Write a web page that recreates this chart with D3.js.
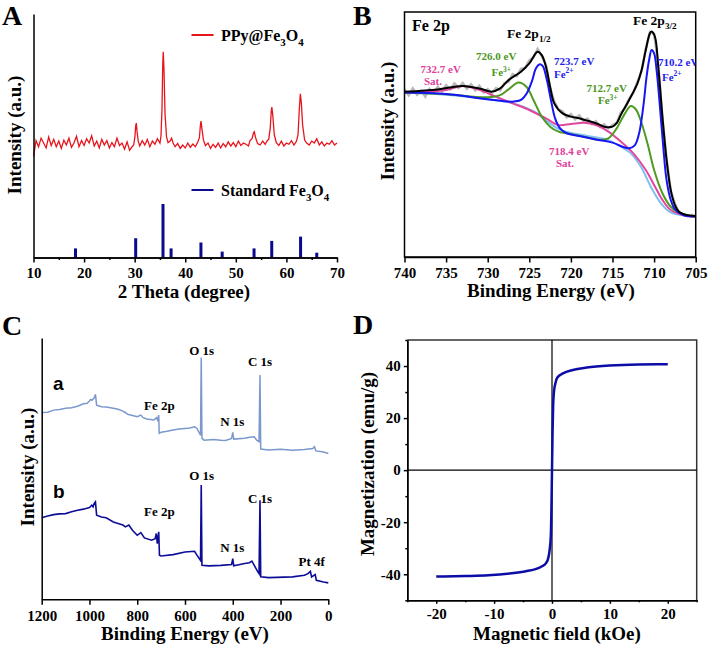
<!DOCTYPE html>
<html>
<head>
<meta charset="utf-8">
<script src="https://cdn.jsdelivr.net/npm/d3@7"></script>
<style>
body { margin: 0; background: #fff; }
svg text { font-weight: bold; }
</style>
</head>
<body>
<div id="fig"></div>
<script>
// ---------- A: XRD ----------
var xrdPPy = [[10,415],[10.5,480],[11,455],[11.5,490],[12,470],[12.5,450],[13,495],[13.5,460],[14,485],[14.5,455],
  [15,478],[15.5,448],[16,482],[16.5,462],[17,490],[17.5,452],[18,470],[18.5,498],[19,455],[19.5,480],
  [20,460],[20.5,488],[21,470],[21.5,500],[22,458],[22.5,478],[23,450],[23.5,485],[24,462],[24.5,480],
  [25,450],[25.5,472],[26,455],[26.5,490],[27,460],[27.5,470],[28,445],[28.5,475],[29,440],[29.5,455],
  [29.8,462],[30.05,495],[30.2,540],[30.32,552],[30.45,522],[30.7,478],[31,458],[31.5,480],[32,462],[32.5,485],
  [33,455],[33.5,478],[34,465],[34.5,488],[35,470],[35.2,498],[35.4,610],[35.55,790],[35.65,845],[35.8,770],
  [36,590],[36.3,495],[36.6,472],[37,478],[37.3,490],[37.6,470],[38,455],[38.5,468],[39,448],[39.5,462],
  [40,450],[40.5,470],[41,452],[41.5,466],[42,455],[42.5,475],[42.8,492],[43,545],[43.12,560],[43.3,528],
  [43.6,482],[44,460],[44.5,470],[45,448],[45.5,465],[46,452],[46.5,470],[47,450],[47.5,468],[48,455],
  [48.5,475],[49,458],[49.5,472],[50,455],[50.5,478],[51,460],[51.5,470],[52,465],[52.5,458],[52.8,480],
  [53.2,488],[53.5,512],[53.65,516],[53.9,492],[54.3,468],[54.8,462],[55.3,478],[55.8,465],[56.2,480],[56.5,485],
  [56.8,530],[57,600],[57.12,618],[57.3,585],[57.6,505],[58,472],[58.5,460],[59,478],[59.5,458],[60,470],
  [60.5,465],[61,480],[61.5,462],[62,478],[62.3,505],[62.55,610],[62.75,672],[62.95,635],[63.2,545],[63.6,482],
  [64,470],[64.5,462],[65,478],[65.5,470],[66,488],[66.5,462],[67,475],[67.5,458],[68,470],[68.5,465],
  [69,480],[69.5,462],[70,470]];
var stdPos = [18.3, 30.2, 35.6, 37.2, 43.1, 47.3, 53.6, 57.1, 62.8, 66.0];
var stdInt = [17, 36, 100, 17, 28, 11, 17, 31, 39, 9];
var xrdTicks = [10, 20, 30, 40, 50, 60, 70];
var xrdMinor = [15, 25, 35, 45, 55, 65];

// ---------- B: Fe 2p ----------
var fe2pRaw = [[740,68.5],[739.5,66.0],[739,68.8],[738.5,66.2],[738,67.9],[737.5,65.5],[737,68.6],[736.5,67.0],
  [736,69.5],[735.5,67.5],[735,70.1],[734.5,68.4],[734,70.8],[733.5,69.0],[733,71.0],[732.5,68.7],[732,70.5],
  [731.5,68.0],[731,69.9],[730.5,67.2],[730,68.5],[729.5,66.8],[729,68.9],[728.5,68.0],[728,71.0],[727.5,71.5],
  [727,74.6],[726.5,73.8],[726,76.8],[725.5,77.2],[725,80.3],[724.5,81.5],[724,84.9],[723.5,82.0],[723,78.5],
  [722.5,69.0],[722,63.5],[721.5,60.2],[721,59.5],[720.5,57.0],[720,58.4],[719.5,56.2],[719,57.8],[718.5,55.6],
  [718,56.5],[717.5,54.3],[717,55.4],[716.5,53.0],[716,54.1],[715.5,52.5],[715,53.9],[714.5,54.8],[714,58.9],
  [713.5,60.8],[713,64.6],[712.5,67.0],[712,71.5],[711.5,76.0],[711,85.0],[710.5,91.8],[710,91.0],[709.5,78.5],
  [709,57.0],[708.5,40.2],[708,27.0],[707.5,21.8],[707,18.0],[706.5,17.6],[706,16.6],[705.5,17.2],[705,16.5]];
var fe2pEnvelope = [[740,67.5],[736,68.4],[734,69.5],[733,69.8],[731,68.8],[729.5,67.5],[728.5,68.8],[727.5,72.2],
  [726,75.6],[725,79.0],[724,83.8],[723.5,82.4],[723,77.7],[722.5,69.5],[722,62.7],[721,58.6],[720,57.3],
  [719,56.6],[718,55.6],[717,54.6],[716,53.2],[715,53.2],[714.5,54.6],[714,58.0],[713,64.1],[712,70.9],
  [711.5,76.3],[711,84.5],[710.5,91.3],[710.3,92.0],[709.9,89.9],[709.5,77.7],[709,57.3],[708.5,39.6],
  [708,27.3],[707.5,21.2],[707,18.5],[706,17.1],[705,16.7]];
var fe2pBackground = [[740,67.1],[735,66.2],[730.1,64.4],[726.9,62.7],[724.4,59.3],[722.8,55.2],[721.2,51.8],
  [718,49.4],[715.6,47.8],[714,45.0],[712.8,42.3],[711.6,36.9],[710.4,28.7],[709.2,22.0],[708,18.2],[706,16.8],[705,16.5]];
var fe2pSat = [[740,67.1],[735,68.2],[733,69.8],[731,68.2],[729,65.4],[727,62.7],[725,60.0],[723,56.6],[721.5,53.9],
  [720,54.3],[718.4,54.8],[717,53.9],[715.5,51.2],[714,47.1],[712.5,42.3],[711,35.5],[710,29.4],[709,23.3],
  [708,19.2],[706,16.7],[705,16.5]];
var fe2pFe3 = [[740,67.1],[735,66.4],[730,65.2],[728.5,66.1],[727.5,68.4],[726.3,71.2],[725.3,69.3],[724.5,64.1],
  [723.5,57.3],[722.5,53.2],[721.5,51.2],[720,50.2],[718,48.8],[716.5,47.8],[715.5,48.4],[714.5,52.5],[713.5,58.6],
  [712.8,61.6],[712.2,60.3],[711.5,54.6],[710.8,46.4],[710,35.5],[709,26.0],[708,20.5],[707,18.1],[705,16.5]];
var fe2pFe2 = [[740,67.1],[735,66.5],[730,64.4],[727,63.4],[726,64.1],[725.3,66.8],[724.7,71.6],[724.2,77.0],
  [723.8,78.6],[723.4,78.0],[722.9,72.4],[722.4,64.1],[721.9,56.6],[721.3,52.5],[720.5,50.5],[719,49.4],[717,48.0],
  [715,46.7],[713.8,45.0],[713,44.4],[712.3,45.7],[711.8,50.5],[711.3,61.4],[710.9,73.7],[710.6,80.4],[710.3,84.5],
  [710,83.1],[709.7,76.3],[709.3,61.4],[708.9,45.0],[708.5,31.4],[708,23.3],[707.5,19.5],[706.5,17.1],[705,16.5]];
var beTicksB = [740, 735, 730, 725, 720, 715, 710, 705];

// ---------- C: survey ----------
var surveyA = [[1200,71.5],[1175,71.6],[1150,72.4],[1125,72.6],[1100,73.1],[1075,73.3],[1050,73.9],[1025,74.8],
  [1010,75.0],[1000,75.9],[995,76.5],[990,76.2],[985,76.6],[980,77.1],[975,78.4],[970,74.3],[950,73.7],[930,73.6],
  [900,73.1],[880,72.7],[860,72.0],[850,71.5],[840,70.8],[800,69.9],[785,70.5],[775,69.5],[760,69.0],[730,68.6],
  [720,69.5],[715,68.6],[710,70.5],[708,63.5],[700,63.9],[675,64.3],[650,64.8],[625,65.2],[600,65.4],[580,65.6],
  [560,66.0],[550,65.4],[535,62.8],[532,92.5],[529,61.6],[520,60.9],[480,61.2],[450,60.9],[430,60.8],[405,61.6],
  [400,63.9],[396,61.3],[350,61.6],[330,62.0],[310,62.2],[300,60.9],[290,60.3],[286,85.8],[283,57.5],[250,57.1],
  [200,57.4],[150,57.0],[100,57.3],[65,57.7],[58,58.4],[52,56.8],[20,56.4],[0,55.8]];
var surveyB = [[1200,31.2],[1175,31.9],[1150,32.4],[1125,32.7],[1100,32.8],[1075,33.5],[1050,34.1],[1025,34.5],
  [1000,35.1],[990,36.0],[985,35.4],[980,36.7],[975,37.3],[970,32.2],[950,31.5],[930,31.2],[900,29.6],[880,29.0],
  [860,28.4],[850,27.7],[835,28.4],[820,26.4],[800,24.5],[785,25.5],[770,23.5],[740,22.6],[725,23.2],[720,25.2],
  [716,21.3],[710,25.8],[707,16.9],[700,16.6],[650,17.1],[600,18.1],[560,18.4],[550,16.9],[535,14.9],[532,43.7],
  [529,13.0],[500,12.8],[450,13.0],[405,13.3],[400,15.6],[396,12.8],[350,13.7],[330,14.0],[320,14.6],[310,13.0],
  [295,10.5],[290,9.8],[286,37.9],[283,8.6],[250,8.3],[150,8.6],[100,9.2],[85,9.8],[75,10.7],[70,8.6],[55,9.5],
  [50,7.3],[20,6.6],[0,6.3]];
var beTicksC = [1200, 1000, 800, 600, 400, 200, 0];

// ---------- D: M-H ----------
var mhField =  [-20, -15, -11, -7, -4.5, -3, -1.8, -1, -0.7, -0.4, -0.2, -0.1, 0, 0.1, 0.2, 0.35, 0.6, 0.9, 1.9, 3.6, 6, 10, 15, 20];
var mhMoment = [-40.9, -40.7, -40.4, -39.6, -38.8, -38.1, -37.0, -35.6, -34.2, -30.5, -25, -15, 0, 15, 25, 30.3, 33.5, 35.5, 37.2, 38.5, 39.4, 40.2, 40.6, 40.7];
var mhXTicks = [-20, -10, 0, 10, 20];
var mhXMinor = [-25, -15, -5, 5, 15, 25];
var mhYTicks = [-40, -20, 0, 20, 40];
var mhYMinor = [-50, -30, -10, 10, 30, 50];

var serif = '"Liberation Serif", "Times New Roman", serif';
var sans = '"Liberation Sans", Arial, sans-serif';
var plain = function(d) { return String(d); };

var svg = d3.select("#fig").append("svg")
    .attr("width", 708)
    .attr("height", 650)
    .style("font-family", serif);

// style an axis group
function styleAxis(g, size) {
  g.attr("font-family", serif).attr("font-size", size).attr("font-weight", "bold");
  g.select(".domain").attr("stroke-width", 1.5).attr("stroke", "#000");
  g.selectAll(".tick line").attr("stroke-width", 1.5);
  g.selectAll(".tick text").attr("fill", "#000");
}

// text with sub/superscripts; parts = [[text, "sub"|"sup"|null], ...]
function richText(g, x, y, parts, size, color, anchor) {
  var t = g.append("text").attr("x", x).attr("y", y)
      .attr("font-size", size).attr("fill", color)
      .attr("text-anchor", anchor || "start");
  var shift = 0;
  parts.forEach(function(p) {
    var target = p[1] == "sub" ? size * 0.3 : p[1] == "sup" ? -size * 0.4 : 0;
    t.append("tspan").text(p[0])
      .attr("dy", target - shift)
      .attr("font-size", p[1] ? size * 0.68 : size);
    shift = target;
  });
  return t;
}

function letter(txt, x, y) {
  svg.append("text").attr("x", x).attr("y", y).attr("font-size", 28).text(txt);
}

function yTitle(txt, x, y) {
  svg.append("text").attr("transform", "translate(" + x + "," + y + ") rotate(-90)")
    .attr("text-anchor", "middle").attr("font-size", 19).text(txt);
}
function xTitle(txt, x, y) {
  svg.append("text").attr("x", x).attr("y", y)
    .attr("text-anchor", "middle").attr("font-size", 19).text(txt);
}

// ================= Panel A =================
var xA = d3.scaleLinear().domain([10, 70]).range([33.5, 337]);
var yA = d3.scaleLinear().domain([0, 1000]).range([257.5, 14]);
var yStd = d3.scaleLinear().domain([0, 100]).range([257.5, 204]);

var gA = svg.append("g");
gA.append("path").datum(xrdPPy)
  .attr("fill", "none").attr("stroke", "#e8141c").attr("stroke-width", 1.3)
  .attr("d", d3.line().x(function(d){ return xA(d[0]); }).y(function(d){ return yA(d[1]); }));

gA.selectAll("rect.std").data(stdPos).enter().append("rect")
  .attr("class", "std")
  .attr("x", function(d){ return xA(d) - 1.5; })
  .attr("width", 3)
  .attr("y", function(d, i){ return yStd(stdInt[i]); })
  .attr("height", function(d, i){ return yStd(0) - yStd(stdInt[i]); })
  .attr("fill", "#0a0a8c");

gA.append("g").attr("transform", "translate(0,257.5)")
  .call(d3.axisBottom(xA).tickValues(xrdMinor).tickSize(2.5).tickFormat("").tickSizeOuter(0))
  .call(styleAxis, 15);
gA.append("g").attr("transform", "translate(0,257.5)")
  .call(d3.axisBottom(xA).tickValues(xrdTicks).tickSize(5).tickPadding(5).tickFormat(plain).tickSizeOuter(0))
  .call(styleAxis, 15);
gA.append("g").attr("transform", "translate(33.5,0)")
  .call(d3.axisLeft(d3.scaleLinear().range([257.5, 14])).tickValues([]).tickSizeOuter(0))
  .call(styleAxis, 15);

// legend A
gA.append("line").attr("x1", 191.5).attr("x2", 213.5).attr("y1", 35).attr("y2", 35)
  .attr("stroke", "#e8141c").attr("stroke-width", 2);
richText(gA, 221, 41, [["PPy@Fe", null], ["3", "sub"], ["O", null], ["4", "sub"]], 16, "#000");
gA.append("line").attr("x1", 191.5).attr("x2", 213.5).attr("y1", 190).attr("y2", 190)
  .attr("stroke", "#0a0a8c").attr("stroke-width", 2);
richText(gA, 221, 196, [["Standard Fe", null], ["3", "sub"], ["O", null], ["4", "sub"]], 16, "#000");

letter("A", 2, 25);
yTitle("Intensity (a.u.)", 21, 135);
xTitle("2 Theta (degree)", 184, 298);

// ================= Panel B =================
var xB = d3.scaleLinear().domain([740, 705]).range([404.5, 695.7]);
var yB = d3.scaleLinear().domain([0, 100]).range([257, 12]);
var lineB = d3.line().curve(d3.curveCatmullRom.alpha(0.5))
  .x(function(d){ return xB(d[0]); }).y(function(d){ return yB(d[1]); });

var gB = svg.append("g");
gB.append("clipPath").attr("id", "clipB").append("rect")
  .attr("x", 404.5).attr("y", 12).attr("width", 291.2).attr("height", 245);
var plotB = gB.append("g").attr("clip-path", "url(#clipB)");

plotB.append("path").datum(fe2pRaw).attr("fill", "none").attr("stroke", "#b9b9b9").attr("stroke-width", 2.5)
  .attr("d", d3.line().x(function(d){ return xB(d[0]); }).y(function(d){ return yB(d[1]); }));
var fitsB = [
  [fe2pBackground, "#80bff0"],
  [fe2pSat, "#e0479e"],
  [fe2pFe3, "#4f9a22"],
  [fe2pFe2, "#1515f5"],
  [fe2pEnvelope, "#000000"]
];
fitsB.forEach(function(f) {
  plotB.append("path").datum(f[0]).attr("fill", "none")
    .attr("stroke", f[1]).attr("stroke-width", 2).attr("d", lineB);
});

// labels B
var gBL = svg.append("g").attr("clip-path", "url(#clipB)");
richText(gBL, 412, 31, [["Fe 2p", null]], 16, "#000");
richText(gBL, 507, 38, [["Fe 2p", null], ["1/2", "sub"]], 13.5, "#000");
richText(gBL, 633, 25, [["Fe 2p", null], ["3/2", "sub"]], 13.5, "#000");
var pink = "#e0409c", green = "#4b961c", blue = "#2222f0";
var lf = 11;
richText(gBL, 420.5, 73, [["732.7 eV", null]], lf, pink);
richText(gBL, 424, 85, [["Sat.", null]], lf, pink);
richText(gBL, 476, 60, [["726.0 eV", null]], lf, green);
richText(gBL, 491.5, 76, [["Fe", null], ["3+", "sup"]], lf, green);
richText(gBL, 554, 65, [["723.7 eV", null]], lf, blue);
richText(gBL, 554, 77.5, [["Fe", null], ["2+", "sup"]], lf, blue);
richText(gBL, 586.5, 91.5, [["712.7 eV", null]], lf, green);
richText(gBL, 598, 104, [["Fe", null], ["3+", "sup"]], lf, green);
richText(gBL, 658, 65.5, [["710.2 eV", null]], lf, blue);
richText(gBL, 662, 80.5, [["Fe", null], ["2+", "sup"]], lf, blue);
richText(gBL, 549, 155, [["718.4 eV", null]], lf, pink);
richText(gBL, 556, 167, [["Sat.", null]], lf, pink);

gB.append("rect").attr("x", 404.5).attr("y", 12).attr("width", 291.2).attr("height", 245)
  .attr("fill", "none").attr("stroke", "#000").attr("stroke-width", 1.5);
gB.append("g").attr("transform", "translate(0,257)")
  .call(d3.axisBottom(xB).tickValues(beTicksB).tickSize(5.5).tickPadding(5).tickFormat(plain).tickSizeOuter(0))
  .call(styleAxis, 15);

letter("B", 353, 25);
yTitle("Intensity (a.u.)", 394, 121);
xTitle("Binding Energy (eV)", 551, 297);

// ================= Panel C =================
var xC = d3.scaleLinear().domain([1200, 0]).range([41.7, 328.3]);
var yC = d3.scaleLinear().domain([0, 100]).range([599.3, 338]);
var lineC = d3.line().x(function(d){ return xC(d[0]); }).y(function(d){ return yC(d[1]); });

var gC = svg.append("g");
gC.append("path").datum(surveyA).attr("fill", "none").attr("stroke", "#7b98cc").attr("stroke-width", 1.5).attr("d", lineC);
gC.append("path").datum(surveyB).attr("fill", "none").attr("stroke", "#0c0c98").attr("stroke-width", 1.6).attr("d", lineC);

gC.append("g").attr("transform", "translate(0,599.3)")
  .call(d3.axisBottom(xC).tickValues(beTicksC).tickSize(5.5).tickPadding(6).tickFormat(plain).tickSizeOuter(0))
  .call(styleAxis, 15);
gC.append("g").attr("transform", "translate(41.7,0)")
  .call(d3.axisLeft(yC).tickValues([]).tickSizeOuter(0))
  .call(styleAxis, 15);

gC.append("text").attr("x", 53).attr("y", 390).attr("font-size", 19)
  .style("font-family", sans).text("a");
gC.append("text").attr("x", 53).attr("y", 498).attr("font-size", 19)
  .style("font-family", sans).text("b");
var peakLabels = [
  ["O 1s", 201.7, 355], ["C 1s", 260, 366], ["Fe 2p", 159.3, 410], ["N 1s", 232.3, 426],
  ["O 1s", 201.7, 480], ["C 1s", 260, 503], ["Fe 2p", 159.3, 516], ["N 1s", 232.3, 552], ["Pt 4f", 311.7, 566]
];
peakLabels.forEach(function(p) {
  gC.append("text").attr("x", p[1]).attr("y", p[2]).attr("text-anchor", "middle")
    .attr("font-size", 13).text(p[0]);
});

letter("C", 2, 335);
yTitle("Intensity (a.u.)", 33.5, 467);
xTitle("Binding Energy (eV)", 185, 640);

// ================= Panel D =================
var xD = d3.scaleLinear().domain([-25, 25]).range([407.3, 696.7]);
var yD = d3.scaleLinear().domain([-50, 50]).range([600.3, 340]);
var gD = svg.append("g");

// frame top/right
gD.append("path")
  .attr("d", "M" + xD(-25) + "," + yD(50) + "H" + xD(25) + "V" + yD(-50))
  .attr("fill", "none").attr("stroke", "#333").attr("stroke-width", 1.5);
// zero lines
gD.append("line").attr("x1", xD(0)).attr("x2", xD(0)).attr("y1", yD(50)).attr("y2", yD(-50))
  .attr("stroke", "#000").attr("stroke-width", 1.2);
gD.append("line").attr("x1", xD(-25)).attr("x2", xD(25)).attr("y1", yD(0)).attr("y2", yD(0))
  .attr("stroke", "#000").attr("stroke-width", 1.2);

gD.append("path").datum(mhField)
  .attr("fill", "none").attr("stroke", "#0c0ca6").attr("stroke-width", 2.5)
  .attr("d", d3.line().curve(d3.curveMonotoneX)
    .x(function(d){ return xD(d); })
    .y(function(d, i){ return yD(mhMoment[i]); }));

gD.append("g").attr("transform", "translate(0,600.3)")
  .call(d3.axisBottom(xD).tickValues(mhXMinor).tickSize(2).tickFormat("").tickSizeOuter(0))
  .call(styleAxis, 15);
gD.append("g").attr("transform", "translate(0,600.3)")
  .call(d3.axisBottom(xD).tickValues(mhXTicks).tickSize(3.5).tickPadding(5).tickFormat(plain).tickSizeOuter(0))
  .call(styleAxis, 15);
gD.append("g").attr("transform", "translate(407.3,0)")
  .call(d3.axisLeft(yD).tickValues(mhYMinor).tickSize(2).tickFormat("").tickSizeOuter(0))
  .call(styleAxis, 15);
gD.append("g").attr("transform", "translate(407.3,0)")
  .call(d3.axisLeft(yD).tickValues(mhYTicks).tickSize(3.5).tickPadding(3).tickFormat(plain).tickSizeOuter(0))
  .call(styleAxis, 15);

letter("D", 353, 334);
yTitle("Magnetization (emu/g)", 374, 464);
xTitle("Magnetic field (kOe)", 557, 640);
</script>
</body>
</html>
